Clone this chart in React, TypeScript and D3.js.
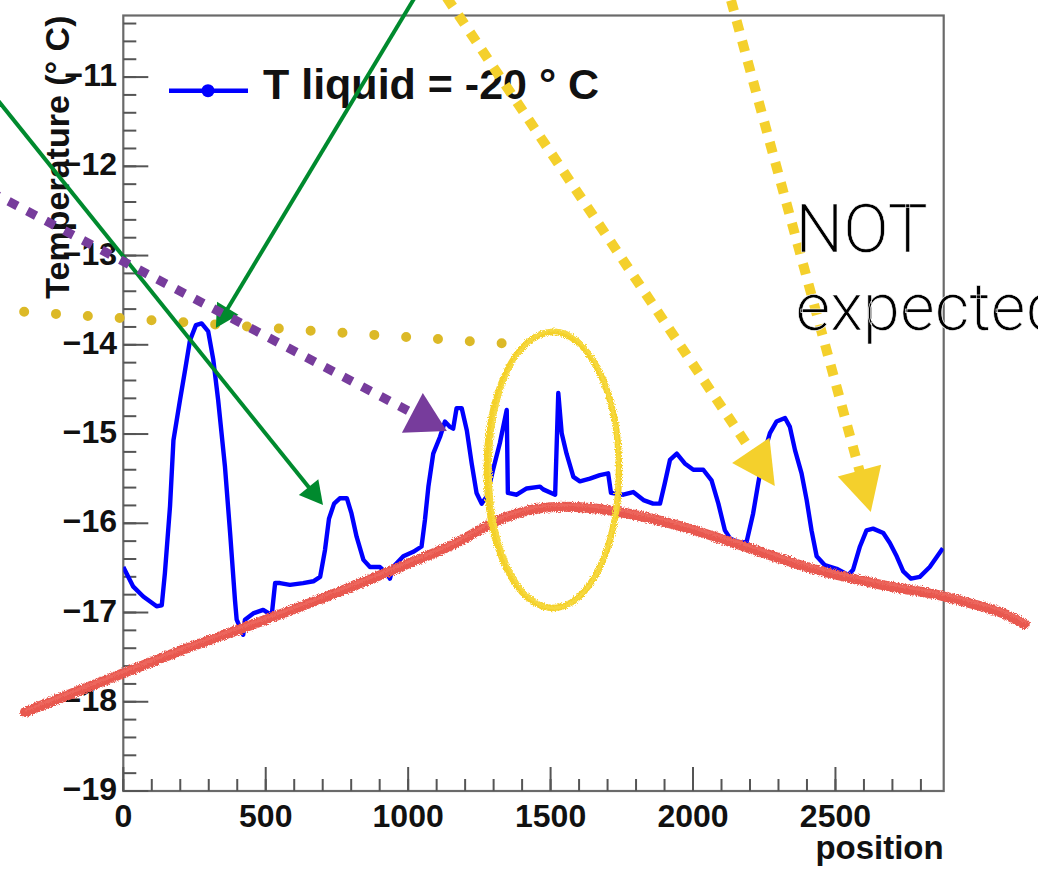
import React from 'react';
import * as d3 from 'd3';

// ---- data ----
const positions = [
  0, 35, 70, 117, 135, 146, 164, 176, 199, 217, 234, 255, 275, 298, 316, 333, 357, 375, 392, 398,
  421, 427, 456, 491, 521, 533, 550, 585, 631, 667, 691, 708, 722, 740, 760, 785, 801, 819, 843, 866,
  901, 925, 936, 947, 983, 1018, 1047, 1059, 1071, 1088, 1112, 1129, 1147, 1158, 1170, 1188, 1206, 1223, 1240, 1258,
  1276, 1298, 1322, 1346, 1350, 1381, 1416, 1463, 1474, 1516, 1527, 1539, 1556, 1580, 1603, 1638, 1673, 1702, 1712, 1755,
  1790, 1826, 1860, 1884, 1901, 1919, 1943, 1971, 2001, 2036, 2065, 2089, 2112, 2130, 2165, 2188, 2211, 2229, 2246, 2270,
  2293, 2323, 2340, 2358, 2381, 2399, 2416, 2434, 2463, 2504, 2545, 2562, 2586, 2609, 2632, 2668, 2691, 2715, 2738, 2765,
  2796, 2831, 2877,
];
const temperatures = [
  -16.49, -16.71, -16.82, -16.93, -16.92, -16.56, -15.81, -15.07, -14.62, -14.28, -13.95, -13.78, -13.76, -13.85, -14.17, -14.62, -15.37, -16.11, -16.86, -17.08,
  -17.25, -17.08, -17.01, -16.97, -17.03, -16.67, -16.67, -16.69, -16.67, -16.65, -16.6, -16.3, -15.95, -15.78, -15.72, -15.72, -15.89, -16.15, -16.41, -16.49,
  -16.49, -16.56, -16.62, -16.49, -16.37, -16.32, -16.26, -15.96, -15.59, -15.22, -15.03, -14.86, -14.92, -14.94, -14.71, -14.71, -14.96, -15.33, -15.66, -15.78,
  -15.7, -15.4, -15.1, -14.73, -15.66, -15.68, -15.61, -15.59, -15.62, -15.68, -14.54, -14.99, -15.22, -15.48, -15.53, -15.5, -15.46, -15.44, -15.66, -15.68,
  -15.65, -15.74, -15.78, -15.78, -15.55, -15.29, -15.22, -15.33, -15.4, -15.4, -15.52, -15.78, -16.08, -16.17, -16.22, -16.21, -15.89, -15.55, -15.25, -14.99,
  -14.86, -14.82, -14.92, -15.18, -15.44, -15.74, -16.08, -16.37, -16.47, -16.51, -16.58, -16.52, -16.26, -16.08, -16.06, -16.11, -16.22, -16.37, -16.54, -16.62,
  -16.6, -16.49, -16.28,
];

const xTickValues = [0, 500, 1000, 1500, 2000, 2500];
const xTickLabels = ['0', '500', '1000', '1500', '2000', '2500'];
const yTickValues = [-19, -18, -17, -16, -15, -14, -13, -12, -11];
const yTickLabels = ['\u221219', '\u221218', '\u221217', '\u221216', '\u221215', '\u221214', '\u221213', '\u221212', '\u221211'];
const legendLabel = 'T liquid = -20 \u00B0 C';
const xTitle = 'position';
const yTitle = 'Temperature (\u00B0 C)';

// ---- hand-drawn annotations (in data coordinates) ----
const redCurvePos = [-345, -60, 199, 497, 736, 971, 1147, 1312, 1428, 1515, 1638, 1779, 1954, 2165, 2410, 2649, 2877, 3007, 3077, 3165];
const redCurveTemp = [-18.115, -17.756, -17.431, -17.084, -16.793, -16.49, -16.255, -15.975, -15.852, -15.818, -15.829, -15.896, -16.031, -16.244, -16.501, -16.681, -16.815, -16.927, -16.994, -17.129];
const ellipseCenter = [1508, -15.403];
const ellipseRadii = [232, 1.546];
const dottedFrom = [-348, -13.63];
const dottedTo = [1333, -13.984];
const greenFrom = [[1060, -9.913], [-468, -11.151]];
const greenTo = [[325, -13.812], [701, -15.795]];
const purpleFrom = [-468, -12.283];
const purpleTo = [1136, -14.966];
const yellowFrom = [[1094, -9.913], [2114, -9.913]];
const yellowTo = [[2287, -15.583], [2624, -15.874]];
const noteLines = ['NOT', 'expected'];
const notePos = [[2360, -12.957], [2360, -13.835]];

const W = 1038;
const H = 870;
const frame = { left: 123.3, right: 943.7, top: 15.5, bottom: 791 };

const xScale = d3.scaleLinear().domain([0, 2880]).range([frame.left, frame.right]);
const yScale = d3.scaleLinear().domain([-19, -10.31]).range([frame.bottom, frame.top]);

const FONT = '"Liberation Sans", Arial, Helvetica, sans-serif';

function arrowParts(fx: number, fy: number, tx: number, ty: number, len: number, half: number) {
  const dx = tx - fx;
  const dy = ty - fy;
  const d = Math.hypot(dx, dy);
  const ux = dx / d;
  const uy = dy / d;
  const bx = tx - ux * len;
  const by = ty - uy * len;
  const px = -uy;
  const py = ux;
  const tri = `M${tx},${ty} L${bx + px * half},${by + py * half} L${bx - px * half},${by - py * half} Z`;
  return { line: { x1: fx, y1: fy, x2: bx + ux * 1, y2: by + uy * 1 }, tri };
}

export default function App() {
  const line = d3
    .line<number>()
    .x((_, i) => xScale(positions[i]))
    .y((_, i) => yScale(temperatures[i]));
  const bluePath = line(temperatures) || '';

  const redLine = d3
    .line<number>()
    .x((_, i) => xScale(redCurvePos[i]))
    .y((_, i) => yScale(redCurveTemp[i]))
    .curve(d3.curveCatmullRom.alpha(0.5));
  const redPath = redLine(redCurveTemp) || '';

  const xMinor = d3.range(0, 2900, 100);
  const yMinor = d3.range(-19, -10.35, 0.2);

  const ecx = xScale(ellipseCenter[0]);
  const ecy = yScale(ellipseCenter[1]);
  const erx = xScale(ellipseCenter[0] + ellipseRadii[0]) - ecx;
  const ery = yScale(ellipseCenter[1] - ellipseRadii[1]) - ecy;

  const greens = greenFrom.map((f, i) =>
    arrowParts(xScale(f[0]), yScale(f[1]), xScale(greenTo[i][0]), yScale(greenTo[i][1]), 23, 12.5)
  );
  const purple = arrowParts(xScale(purpleFrom[0]), yScale(purpleFrom[1]), xScale(purpleTo[0]), yScale(purpleTo[1]), 39, 22.5);
  const yellows = yellowFrom.map((f, i) =>
    arrowParts(xScale(f[0]), yScale(f[1]), xScale(yellowTo[i][0]), yScale(yellowTo[i][1]), 43, 22.5)
  );

  return (
    <svg
      width={W}
      height={H}
      viewBox={`0 0 ${W} ${H}`}
      style={{ position: 'absolute', left: 0, top: 0, background: '#fff' }}
    >
      <defs>
        <filter id="rough" filterUnits="userSpaceOnUse" x="0" y="0" width={W} height={H}>
          <feTurbulence type="fractalNoise" baseFrequency="0.9" numOctaves="2" seed="4" result="n" />
          <feDisplacementMap in="SourceGraphic" in2="n" scale="4.5" xChannelSelector="R" yChannelSelector="G" />
        </filter>
        <filter id="soft" x="-5%" y="-5%" width="110%" height="110%">
          <feGaussianBlur stdDeviation="0.5" />
        </filter>
        <clipPath id="frameClip">
          <rect x={frame.left} y={frame.top} width={frame.right - frame.left} height={frame.bottom - frame.top} />
        </clipPath>
      </defs>
      <rect x={0} y={0} width={W} height={H} fill="#fff" />

      {/* frame */}
      <rect
        x={frame.left}
        y={frame.top}
        width={frame.right - frame.left}
        height={frame.bottom - frame.top}
        fill="none"
        stroke="#6a6a6a"
        strokeWidth={2.2}
      />

      {/* y ticks */}
      {yMinor.map((v, i) => (
        <line key={'ym' + i} x1={frame.left} x2={frame.left + 13} y1={yScale(v)} y2={yScale(v)} stroke="#555" strokeWidth={2} />
      ))}
      {yTickValues.map((v) => (
        <line key={'yM' + v} x1={frame.left} x2={frame.left + 25} y1={yScale(v)} y2={yScale(v)} stroke="#555" strokeWidth={2} />
      ))}
      {yTickValues.map((v, i) => (
        <text
          key={'yl' + v}
          x={117}
          y={yScale(v) + 9}
          textAnchor="end"
          fontFamily={FONT}
          fontWeight="bold"
          fontSize={32}
          fill="#111"
        >
          {yTickLabels[i]}
        </text>
      ))}

      {/* x ticks */}
      {xMinor.map((v) => (
        <line key={'xm' + v} x1={xScale(v)} x2={xScale(v)} y1={frame.bottom} y2={frame.bottom - 12} stroke="#555" strokeWidth={2} />
      ))}
      {xTickValues.map((v) => (
        <line key={'xM' + v} x1={xScale(v)} x2={xScale(v)} y1={frame.bottom} y2={frame.bottom - 24} stroke="#555" strokeWidth={2} />
      ))}
      {xTickValues.map((v, i) => (
        <text
          key={'xl' + v}
          x={xScale(v)}
          y={826.5}
          textAnchor="middle"
          fontFamily={FONT}
          fontWeight="bold"
          fontSize={32}
          fill="#111"
        >
          {xTickLabels[i]}
        </text>
      ))}

      {/* axis titles */}
      <text x={frame.right} y={859} textAnchor="end" fontFamily={FONT} fontWeight="bold" fontSize={33} fill="#111">
        {xTitle}
      </text>
      <text
        transform={`translate(69,${frame.top}) rotate(-90)`}
        textAnchor="end"
        fontFamily={FONT}
        fontWeight="bold"
        fontSize={34}
        fill="#111"
      >
        {yTitle}
      </text>

      {/* data */}
      <g clipPath="url(#frameClip)">
        <path d={bluePath} fill="none" stroke="#0000ff" strokeWidth={4.4} strokeLinejoin="round" filter="url(#soft)" />
      </g>

      {/* legend */}
      <line x1={169} x2={248} y1={90.7} y2={90.7} stroke="#0000ff" strokeWidth={4.4} />
      <circle cx={208} cy={90.7} r={6.5} fill="#0000ff" />
      <text x={263} y={99} fontFamily={FONT} fontWeight="bold" fontSize={43} fill="#111">
        {legendLabel}
      </text>

      {/* annotations */}
      <g filter="url(#rough)">
        <path d={redPath} fill="none" stroke="#e8584f" strokeWidth={10} strokeLinecap="round" />
        <path d={redPath} fill="none" stroke="#ee6a60" strokeWidth={3} strokeLinecap="round" transform="translate(1,-2)" opacity={0.8} />
        <ellipse cx={ecx} cy={ecy} rx={erx} ry={ery} fill="none" stroke="#f4d12c" strokeWidth={6.5} />
        <ellipse cx={ecx + 1.5} cy={ecy - 1} rx={erx - 2} ry={ery + 1} fill="none" stroke="#f6d83e" strokeWidth={3} />
      </g>

      <line
        x1={xScale(dottedFrom[0])}
        y1={yScale(dottedFrom[1])}
        x2={xScale(dottedTo[0])}
        y2={yScale(dottedTo[1])}
        stroke="#dcb927"
        strokeWidth={10}
        strokeLinecap="round"
        strokeDasharray="0 31.9"
      />

      {greens.map((g, i) => (
        <g key={'g' + i}>
          <line {...g.line} stroke="#008a2e" strokeWidth={4} />
          <path d={g.tri} fill="#008a2e" />
        </g>
      ))}

      <g>
        <line {...purple.line} stroke="#773c9c" strokeWidth={9} strokeDasharray="10 11" />
        <path d={purple.tri} fill="#773c9c" />
      </g>

      {yellows.map((g, i) => (
        <g key={'y' + i}>
          <line {...g.line} stroke="#f4d02c" strokeWidth={10} strokeDasharray="11 10" />
          <path d={g.tri} fill="#f4d02c" />
        </g>
      ))}

      {noteLines.map((t, i) => (
        <text
          key={t}
          x={xScale(notePos[i][0])}
          y={yScale(notePos[i][1])}
          fontFamily='Roboto, "Open Sans", sans-serif'
          fontWeight={300}
          fontSize={67}
          fill="#000"
          stroke="#fff"
          strokeWidth={0.6}
        >
          {t}
        </text>
      ))}
    </svg>
  );
}
